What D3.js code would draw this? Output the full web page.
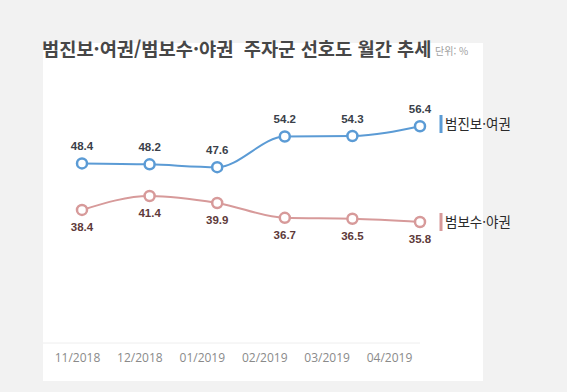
<!DOCTYPE html>
<html lang="ko">
<head>
<meta charset="utf-8">
<title>범진보·여권/범보수·야권 주자군 선호도 월간 추세</title>
<script src="https://cdn.jsdelivr.net/npm/d3@7"></script>
<style>
  html, body { margin: 0; padding: 0; background: #f2f2f2; }
  svg { display: block; font-family: "Noto Sans CJK KR", "Noto Sans", sans-serif; }
</style>
</head>
<body>
<div id="chart"></div>
<script>

// data
var months = ["11/2018", "12/2018", "01/2019", "02/2019", "03/2019", "04/2019"];
var progressive = [48.4, 48.2, 47.6, 54.2, 54.3, 56.4];   // 범진보·여권
var conservative = [38.4, 41.4, 39.9, 36.7, 36.5, 35.8];  // 범보수·야권
var seriesNames = ["범진보·여권", "범보수·야권"];

var W = 567, H = 392;

var svg = d3.select("#chart")
  .append("svg")
    .attr("width", W)
    .attr("height", H);

// white panel
svg.append("rect")
    .attr("x", 43).attr("y", 43)
    .attr("width", 440).attr("height", 338)
    .attr("fill", "#fff");

// title
svg.append("text")
    .attr("x", 42).attr("y", 56)
    .attr("font-size", 18.7)
    .attr("font-weight", "bold")
    .attr("fill", "#474747")
    .style("white-space", "pre")
    .text("범진보·여권/범보수·야권  주자군 선호도 월간 추세");
svg.append("text")
    .attr("x", 435).attr("y", 55)
    .attr("font-size", 10)
    .attr("fill", "#a0a0a0")
    .text("단위: %");

// scales
var x = d3.scalePoint()
    .domain(months)
    .range([82, 420]);

// month labels sit a bit left of the points in the original
var xLabel = d3.scalePoint()
    .domain(months)
    .range([77, 389]);

var y = d3.scaleLinear()
    .domain([30, 60])
    .range([249, 109.5]);

// bottom axis
svg.append("g")
    .attr("transform", "translate(0,343)")
    .call(d3.axisBottom(xLabel).tickSize(0).tickPadding(10))
    .call(function(g) {
      g.select(".domain").remove();
      g.selectAll("text")
        .attr("font-size", 12)
        .attr("fill", "#8a8a8a")
        .attr("font-family", "\"Open Sans\", \"Noto Sans\", sans-serif");
    });
svg.append("line")
    .attr("x1", 43).attr("x2", 420)
    .attr("y1", 343).attr("y2", 343)
    .attr("stroke", "#eeeeee");

var line = d3.line()
    .x(function(d, i) { return x(months[i]); })
    .y(function(d) { return y(d); })
    .curve(d3.curveMonotoneX);

var series = [
  {name: seriesNames[0], values: progressive, color: "#5b9bd5", label: "#3a3f4a", dy: -13, legY: 124},
  {name: seriesNames[1], values: conservative, color: "#d79a9a", label: "#5e3a3a", dy: 21, legY: 222}
];

series.forEach(function(s) {
  var g = svg.append("g");
  g.append("path")
      .datum(s.values)
      .attr("d", line)
      .attr("fill", "none")
      .attr("stroke", s.color)
      .attr("stroke-width", 2);

  g.selectAll("circle")
      .data(s.values)
      .enter()
      .append("circle")
        .attr("cx", function(d, i) { return x(months[i]); })
        .attr("cy", function(d) { return y(d); })
        .attr("r", 5)
        .attr("fill", "#fff")
        .attr("stroke", s.color)
        .attr("stroke-width", 2.5);

  g.selectAll("text.val")
      .data(s.values)
      .enter()
      .append("text")
        .attr("class", "val")
        .attr("x", function(d, i) { return x(months[i]); })
        .attr("y", function(d) { return y(d) + s.dy; })
        .attr("text-anchor", "middle")
        .attr("font-size", 11.5)
        .attr("font-weight", "bold")
        .attr("font-family", "\"Liberation Sans\", Arial, sans-serif")
        .attr("fill", s.label)
        .text(function(d) { return d.toFixed(1); });

  // legend
  g.append("rect")
      .attr("x", 439.5).attr("y", s.legY - 9)
      .attr("width", 3).attr("height", 18)
      .attr("fill", s.color);
  g.append("text")
      .attr("x", 445).attr("y", s.legY + 5)
      .attr("font-size", 13.5)
      .attr("fill", "#2a2a2a")
      .text(s.name);
});

</script>
</body>
</html>
